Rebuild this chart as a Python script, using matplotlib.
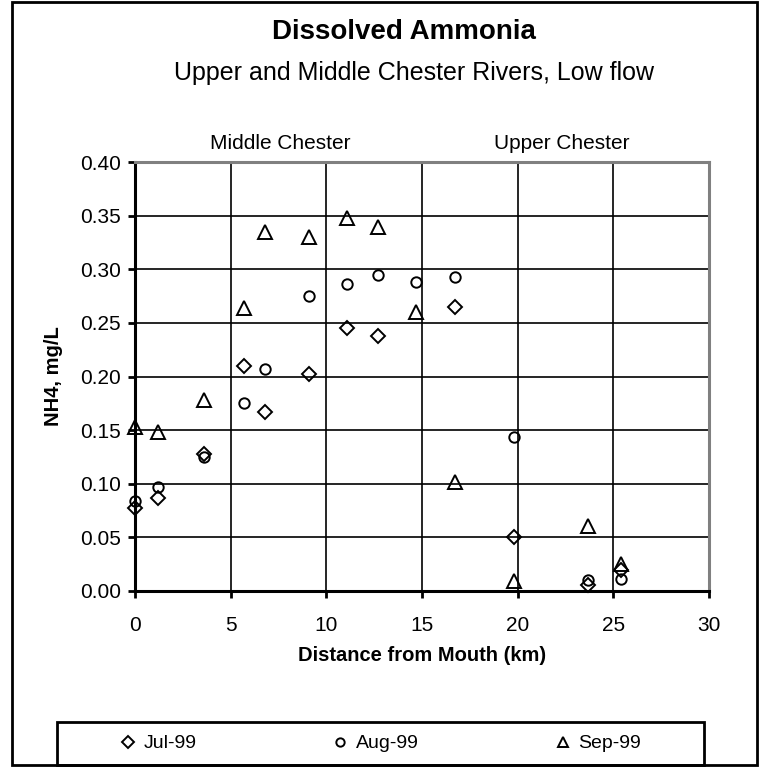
import matplotlib
matplotlib.use("Agg")
import matplotlib.pyplot as plt
from matplotlib.patches import Rectangle

plt.rcParams['font.family'] = ['Liberation Sans', 'DejaVu Sans']

# distance from mouth (km) and NH4 (mg/L) per survey
jul_km = [0.0, 1.2, 3.6, 5.7, 6.8, 9.1, 11.1, 12.7, 16.7, 19.8, 23.7, 25.4]
jul_nh4 = [0.077, 0.087, 0.128, 0.210, 0.167, 0.202, 0.245, 0.238, 0.265, 0.050, 0.006, 0.020]

aug_km = [0.0, 1.2, 3.6, 5.7, 6.8, 9.1, 11.1, 12.7, 14.7, 16.7, 19.8, 23.7, 25.4]
aug_nh4 = [0.084, 0.097, 0.125, 0.175, 0.207, 0.275, 0.286, 0.295, 0.288, 0.293, 0.144, 0.010, 0.011]

sep_km = [0.0, 1.2, 3.6, 5.7, 6.8, 9.1, 11.1, 12.7, 14.7, 16.7, 19.8, 23.7, 25.4]
sep_nh4 = [0.153, 0.148, 0.178, 0.264, 0.335, 0.330, 0.348, 0.339, 0.260, 0.102, 0.009, 0.061, 0.025]

x_ticks = [0, 5, 10, 15, 20, 25, 30]
y_ticks = [0.00, 0.05, 0.10, 0.15, 0.20, 0.25, 0.30, 0.35, 0.40]

W, H = 763, 769
fig = plt.figure(figsize=(W / 100, H / 100), dpi=100)

# plot area in pixel coordinates
left, right, top, bottom = 135, 709, 162, 591
ax = fig.add_axes([left / W, 1 - bottom / H, (right - left) / W, (bottom - top) / H])

mk = dict(linestyle='none', markerfacecolor='none', markeredgecolor='black',
          markeredgewidth=1.4, clip_on=False)
l1, = ax.plot(jul_km, jul_nh4, marker='D', markersize=7.2, label='Jul-99', **mk)
l2, = ax.plot(aug_km, aug_nh4, marker='o', markersize=7.5, label='Aug-99', **mk)
l3, = ax.plot(sep_km, sep_nh4, marker='^', markersize=9.5, label='Sep-99', **mk)

ax.set_xlim(0, 30)
ax.set_ylim(0, 0.40)
ax.set_xticks(x_ticks)
ax.set_yticks(y_ticks)
ax.set_yticklabels([f"{v:.2f}" for v in y_ticks])
ax.grid(True, color='black', linewidth=1.2)
ax.set_axisbelow(True)
ax.tick_params(axis='both', direction='out', length=5, width=2, labelsize=15,
               colors='black', pad=5)
ax.tick_params(axis='x', pad=13)

for side in ['left', 'bottom']:
    ax.spines[side].set_linewidth(2.2)
    ax.spines[side].set_color('black')
for side in ['top', 'right']:
    ax.spines[side].set_linewidth(2.2)
    ax.spines[side].set_color('#808080')

ax.set_xlabel('Distance from Mouth (km)', fontsize=14.5, fontweight='bold', labelpad=8)
ax.set_ylabel('NH4, mg/L', fontsize=14.5, fontweight='bold', labelpad=12)

# section labels above the plot
ax.text(7.6, 1.02, 'Middle Chester', transform=ax.get_xaxis_transform(),
        ha='center', va='bottom', fontsize=15)
ax.text(22.3, 1.02, 'Upper Chester', transform=ax.get_xaxis_transform(),
        ha='center', va='bottom', fontsize=15)

fig.text(0.53, 1 - 32 / H, 'Dissolved Ammonia', ha='center', va='center',
         fontsize=20, fontweight='bold')
fig.text(0.543, 1 - 73 / H, 'Upper and Middle Chester Rivers, Low flow',
         ha='center', va='center', fontsize=18)

# outer chart border
fig.patches.append(Rectangle((12 / W, 1 - 765 / H), (757 - 12) / W, (765 - 2) / H,
                             transform=fig.transFigure, fill=False,
                             edgecolor='black', linewidth=2))

# legend box along the bottom
lx0, lx1, ly0, ly1 = 57, 704, 722, 765
fig.patches.append(Rectangle((lx0 / W, 1 - ly1 / H), (lx1 - lx0) / W, (ly1 - ly0) / H,
                             transform=fig.transFigure, fill=False,
                             edgecolor='black', linewidth=2))
fig.legend(handles=[l1, l2, l3], loc='center', ncol=3, frameon=False,
           bbox_to_anchor=((lx0 + lx1) / 2 / W, 1 - (ly0 + ly1) / 2 / H),
           fontsize=14, handlelength=0.8, handletextpad=0.4, columnspacing=7.0,
           markerscale=0.8)

fig.savefig('out.png', dpi=100)
